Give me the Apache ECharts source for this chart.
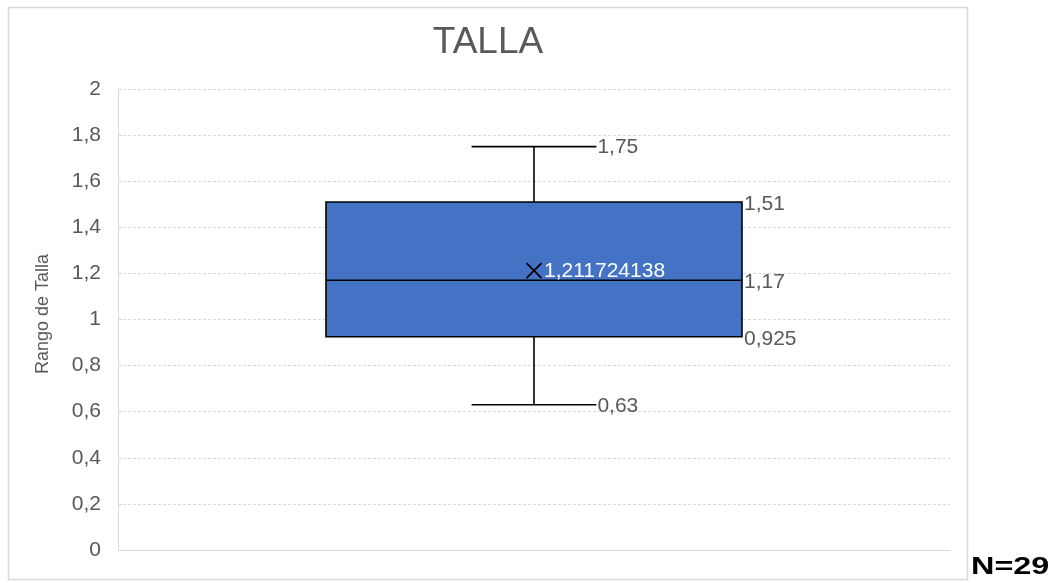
<!DOCTYPE html>
<html>
<head>
<meta charset="utf-8">
<script src="https://cdn.jsdelivr.net/npm/echarts@6/dist/echarts.min.js"></script>
<style>
    html, body { margin: 0; padding: 0; background: #fff; }
    #main { width: 1054px; height: 583px; }
</style>
</head>
<body>
<div id="main"></div>
<script>
// datos del diagrama de caja
var categories = ['TALLA'];
var minVals = [0.63];
var q1Vals = [0.925];
var medianVals = [1.17];
var q3Vals = [1.51];
var maxVals = [1.75];
var meanVals = [1.211724138];
var yMin = 0, yMax = 2, yStep = 0.2;

var FONT = '"Liberation Sans", Arial, sans-serif';
var grey = '#595959';

function coma(v) {
    return String(v).replace('.', ',');
}

var seriesData = [];
for (var i = 0; i < categories.length; i++) {
    seriesData.push([i, minVals[i], q1Vals[i], medianVals[i], q3Vals[i], maxVals[i], meanVals[i]]);
}

function renderBox(params, api) {
    var cat = api.value(0);
    var x = api.coord([cat, 0])[0];
    var band = api.size([1, 0])[0];
    var half = band * 0.25;
    var capHalf = band * 0.075;
    var yLo = api.coord([cat, api.value(1)])[1];
    var yQ1 = api.coord([cat, api.value(2)])[1];
    var yMed = api.coord([cat, api.value(3)])[1];
    var yQ3 = api.coord([cat, api.value(4)])[1];
    var yHi = api.coord([cat, api.value(5)])[1];
    var yMean = api.coord([cat, api.value(6)])[1];
    var ln = {stroke: '#000', lineWidth: 1.6};
    var lbl = function (txt, tx, ty, col) {
        return {
            type: 'text',
            style: {text: txt, x: tx, y: ty, fill: col || grey, font: '21px ' + FONT, align: 'left', verticalAlign: 'middle'}
        };
    };
    return {
        type: 'group',
        children: [
            {type: 'line', shape: {x1: x, y1: yHi, x2: x, y2: yQ3}, style: ln},
            {type: 'line', shape: {x1: x, y1: yQ1, x2: x, y2: yLo}, style: ln},
            {type: 'line', shape: {x1: x - capHalf, y1: yHi, x2: x + capHalf, y2: yHi}, style: ln},
            {type: 'line', shape: {x1: x - capHalf, y1: yLo, x2: x + capHalf, y2: yLo}, style: ln},
            {type: 'rect', shape: {x: x - half, y: yQ3, width: half * 2, height: yQ1 - yQ3},
                style: {fill: '#4472C4', stroke: '#000', lineWidth: 1.6}},
            {type: 'line', shape: {x1: x - half, y1: yMed, x2: x + half, y2: yMed}, style: ln},
            {type: 'line', shape: {x1: x - 7.5, y1: yMean - 7.5, x2: x + 7.5, y2: yMean + 7.5}, style: {stroke: '#000', lineWidth: 1.8}},
            {type: 'line', shape: {x1: x - 7.5, y1: yMean + 7.5, x2: x + 7.5, y2: yMean - 7.5}, style: {stroke: '#000', lineWidth: 1.8}},
            lbl(coma(api.value(5)), x + capHalf + 1, yHi + 1),
            lbl(coma(api.value(4)), x + half + 2, yQ3 + 2),
            lbl(coma(api.value(3)), x + half + 2, yMed + 2),
            lbl(coma(api.value(2)), x + half + 2, yQ1 + 2),
            lbl(coma(api.value(1)), x + capHalf + 1, yLo + 1),
            lbl(coma(api.value(6)), x + 10, yMean + 1, '#ffffff')
        ]
    };
}

var myChart = echarts.init(document.getElementById('main'));
var option = {
    animation: false,
    backgroundColor: '#fff',
    grid: {left: 118, right: 104, top: 89, bottom: 33},
    xAxis: {
        type: 'category',
        data: categories,
        axisLine: {show: true, lineStyle: {color: '#d9d9d9', width: 1}},
        axisTick: {show: false},
        axisLabel: {show: false},
        splitLine: {show: false}
    },
    yAxis: {
        type: 'value',
        min: yMin,
        max: yMax,
        interval: yStep,
        axisLine: {show: true, lineStyle: {color: '#d9d9d9', width: 1}},
        axisTick: {show: true, inside: true, length: 4, lineStyle: {color: '#d9d9d9'}},
        axisLabel: {
            color: grey,
            fontSize: 21,
            fontFamily: FONT,
            margin: 17,
            formatter: function (v) { return coma(+v.toFixed(1)); }
        },
        splitLine: {show: true, lineStyle: {color: '#d9d9d9', type: [3, 2], width: 1}}
    },
    graphic: [
        {type: 'rect', shape: {x: 8.5, y: 7.5, width: 959, height: 572}, style: {fill: 'none', stroke: '#d9d9d9', lineWidth: 1.5}, z: -1},
        {type: 'text', x: 488, y: 43, style: {text: 'TALLA', fill: grey, font: '37px ' + FONT, align: 'center', verticalAlign: 'middle'}},
        {type: 'text', x: 43, y: 314, rotation: Math.PI / 2,
            style: {text: 'Rango de Talla', fill: grey, font: '18px ' + FONT, align: 'center', verticalAlign: 'middle'}},
        {type: 'text', x: 971, y: 567, scaleX: 1.35,
            style: {text: 'N=29', fill: '#000', font: 'bold 24px ' + FONT, align: 'left', verticalAlign: 'middle'}}
    ],
    series: [{
        type: 'custom',
        name: 'TALLA',
        renderItem: renderBox,
        encode: {x: 0, y: [1, 2, 3, 4, 5, 6]},
        data: seriesData
    }]
};
myChart.setOption(option, true);
</script>
</body>
</html>
